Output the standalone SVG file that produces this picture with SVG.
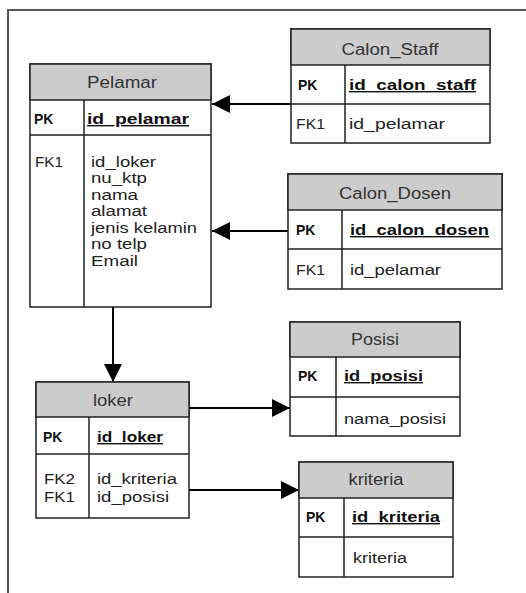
<svg xmlns="http://www.w3.org/2000/svg" width="526" height="593" viewBox="0 0 526 593">
<style>
.frame{stroke:#555;stroke-width:2;fill:none}
.box{fill:#fff;stroke:#222;stroke-width:1.5}
.hdr{fill:#cccccc;stroke:#222;stroke-width:1.5}
.sep{stroke:#222;stroke-width:1.5;fill:none}
.t{font-family:"Liberation Sans",Arial,sans-serif;font-size:14px;fill:#222}
.h{font-family:"Liberation Sans",Arial,sans-serif;font-size:16px;fill:#333;text-anchor:middle}
.k{font-family:"Liberation Sans",Arial,sans-serif;font-size:14px;font-weight:bold;fill:#111}
.u{font-family:"Liberation Sans",Arial,sans-serif;font-size:14px;font-weight:bold;fill:#111;text-decoration:underline}
.c{stroke:#000;stroke-width:2;fill:none;marker-end:url(#arr)}
</style>
<defs>
<marker id="arr" markerUnits="userSpaceOnUse" markerWidth="18" markerHeight="18" viewBox="0 0 18 18" refX="18" refY="9" orient="auto"><path d="M0,0 L18,9 L0,18 z" fill="#000"/></marker>
</defs>
<rect width="526" height="593" fill="#fff"/>
<path class="frame" d="M8,593 L8,10 L526,10"/>

<g id="connectors">
<path class="c" d="M291,104 L212,104"/>
<path class="c" d="M288,231 L212,231"/>
<path class="c" d="M113,307 L113,382"/>
<path class="c" d="M189,408 L290,408"/>
<path class="c" d="M189,490 L299,490"/>
</g>

<g id="Pelamar">
<rect class="box" x="30" y="64" width="181" height="243"/>
<rect class="hdr" x="30" y="64" width="181" height="36"/>
<path class="sep" d="M30,135 L211,135 M84,100 L84,307"/>
<text class="h" x="122" y="88" textLength="70" lengthAdjust="spacingAndGlyphs">Pelamar</text>
<text class="k" x="34" y="124">PK</text>
<text class="u" x="87" y="124" textLength="102" lengthAdjust="spacingAndGlyphs">id_pelamar</text>
<text class="t" x="35" y="167" textLength="28" lengthAdjust="spacingAndGlyphs">FK1</text>
<text class="t" x="91" y="167" textLength="65" lengthAdjust="spacingAndGlyphs">id_loker</text>
<text class="t" x="91" y="183" textLength="56" lengthAdjust="spacingAndGlyphs">nu_ktp</text>
<text class="t" x="91" y="200" textLength="47" lengthAdjust="spacingAndGlyphs">nama</text>
<text class="t" x="91" y="216" textLength="56" lengthAdjust="spacingAndGlyphs">alamat</text>
<text class="t" x="91" y="233" textLength="106" lengthAdjust="spacingAndGlyphs">jenis kelamin</text>
<text class="t" x="91" y="249" textLength="56" lengthAdjust="spacingAndGlyphs">no telp</text>
<text class="t" x="91" y="266" textLength="47" lengthAdjust="spacingAndGlyphs">Email</text>
</g>

<g id="Calon_Staff">
<rect class="box" x="291" y="29" width="199" height="114"/>
<rect class="hdr" x="291" y="29" width="199" height="36"/>
<path class="sep" d="M291,104 L490,104 M345,65 L345,143"/>
<text class="h" x="390" y="55" textLength="97" lengthAdjust="spacingAndGlyphs">Calon_Staff</text>
<text class="k" x="298" y="90">PK</text>
<text class="u" x="349" y="90" textLength="127" lengthAdjust="spacingAndGlyphs">id_calon_staff</text>
<text class="t" x="296" y="129" textLength="29" lengthAdjust="spacingAndGlyphs">FK1</text>
<text class="t" x="349" y="129" textLength="96" lengthAdjust="spacingAndGlyphs">id_pelamar</text>
</g>

<g id="Calon_Dosen">
<rect class="box" x="288" y="174" width="214" height="115"/>
<rect class="hdr" x="288" y="174" width="214" height="36"/>
<path class="sep" d="M288,249 L502,249 M342,210 L342,289"/>
<text class="h" x="395" y="199" textLength="112" lengthAdjust="spacingAndGlyphs">Calon_Dosen</text>
<text class="k" x="296" y="235">PK</text>
<text class="u" x="350" y="235" textLength="139" lengthAdjust="spacingAndGlyphs">id_calon_dosen</text>
<text class="t" x="296" y="275" textLength="29" lengthAdjust="spacingAndGlyphs">FK1</text>
<text class="t" x="350" y="275" textLength="91" lengthAdjust="spacingAndGlyphs">id_pelamar</text>
</g>

<g id="loker">
<rect class="box" x="36" y="382" width="153" height="136"/>
<rect class="hdr" x="36" y="382" width="153" height="35"/>
<path class="sep" d="M36,454 L189,454 M89,417 L89,518"/>
<text class="h" x="113" y="406" textLength="40" lengthAdjust="spacingAndGlyphs">loker</text>
<text class="k" x="43" y="442">PK</text>
<text class="u" x="97" y="442" textLength="66" lengthAdjust="spacingAndGlyphs">id_loker</text>
<text class="t" x="44" y="484" textLength="31" lengthAdjust="spacingAndGlyphs">FK2</text>
<text class="t" x="44" y="502" textLength="31" lengthAdjust="spacingAndGlyphs">FK1</text>
<text class="t" x="97" y="484" textLength="80" lengthAdjust="spacingAndGlyphs">id_kriteria</text>
<text class="t" x="97" y="502" textLength="72" lengthAdjust="spacingAndGlyphs">id_posisi</text>
</g>

<g id="Posisi">
<rect class="box" x="290" y="322" width="170" height="114"/>
<rect class="hdr" x="290" y="322" width="170" height="35"/>
<path class="sep" d="M290,397 L460,397 M336,357 L336,436"/>
<text class="h" x="375" y="345" textLength="48" lengthAdjust="spacingAndGlyphs">Posisi</text>
<text class="k" x="298" y="381">PK</text>
<text class="u" x="344" y="381" textLength="79" lengthAdjust="spacingAndGlyphs">id_posisi</text>
<text class="t" x="344" y="424" textLength="102" lengthAdjust="spacingAndGlyphs">nama_posisi</text>
</g>

<g id="kriteria">
<rect class="box" x="299" y="462" width="154" height="115"/>
<rect class="hdr" x="299" y="462" width="154" height="36"/>
<path class="sep" d="M299,537 L453,537 M344,498 L344,577"/>
<text class="h" x="376" y="485" textLength="55" lengthAdjust="spacingAndGlyphs">kriteria</text>
<text class="k" x="306" y="522">PK</text>
<text class="u" x="352" y="522" textLength="88" lengthAdjust="spacingAndGlyphs">id_kriteria</text>
<text class="t" x="353" y="563" textLength="54" lengthAdjust="spacingAndGlyphs">kriteria</text>
</g>
</svg>
